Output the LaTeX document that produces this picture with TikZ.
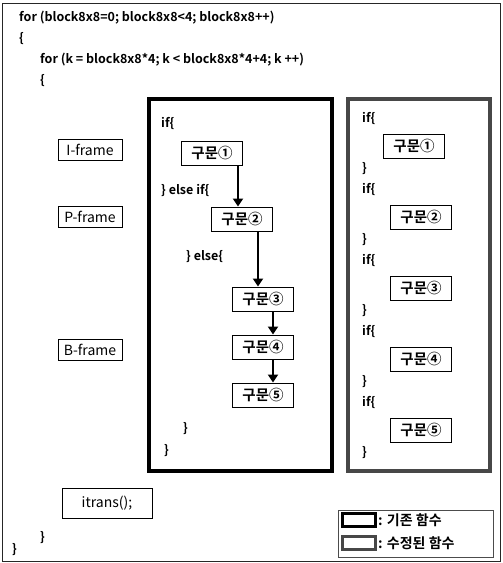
\documentclass[tikz,border=0pt]{standalone}
\usepackage{fontspec}
\setmainfont{Noto Sans CJK KR}[BoldFont={Noto Sans CJK KR Bold}]
\usetikzlibrary{arrows.meta,positioning,calc}

\begin{document}
\begin{tikzpicture}[
    x=1pt,y=-1pt,
    code/.style   = {anchor=base west,inner sep=0pt,font=\bfseries\fontsize{12.5}{14}\selectfont},
    gumun/.style  = {rectangle,draw=black,line width=1pt,fill=white,
                     minimum width=61pt,minimum height=24pt,inner sep=1pt,
                     font=\bfseries\fontsize{14.5}{16}\selectfont},
    frm/.style    = {rectangle,draw=black,line width=1pt,fill=white,
                     minimum width=64pt,minimum height=21pt,inner sep=1pt,
                     font=\fontsize{14}{16}\selectfont},
    oldbox/.style = {rectangle,draw=black,line width=4pt,inner sep=0pt},
    newbox/.style = {rectangle,draw=black!72,line width=4pt,inner sep=0pt},
    fl/.style     = {-{Triangle[length=8pt,width=10pt]},line width=2.2pt},
  ]
  \useasboundingbox (0,0) rectangle (503,563);
  \node[draw=black!85,line width=1pt,inner sep=0pt,minimum width=498pt,
        minimum height=558pt] (page) at (251,282) {};

  % bucles
  \node[code] (for1) at (19,21) {for (block8x8=0; block8x8<4; block8x8++)};
  \node[code] (ob1)  at (19,42) {\{};
  \node[code] (for2) at (40,63) {for (k = block8x8*4; k < block8x8*4+4; k ++)};
  \node[code] (ob2)  at (40,84) {\{};

  % bloques grandes
  \node[oldbox,minimum width=183pt,minimum height=372pt] (orig) at (240.5,285) {};
  \node[newbox,minimum width=142pt,minimum height=372pt] (mod)  at (419,285) {};

  % tipos de frame
  \node[frm] (iframe) at (90,150) {I-frame};
  \node[frm] (pframe) at (90,217) {P-frame};
  \node[frm] (bframe) at (90,350) {B-frame};

  % funcion original
  \node[code] (if0)   at (161,127) {if\{};
  \node[gumun] (a1)   at (212,153) {구문①};
  \node[code] (elif)  at (161,194) {\} else if\{};
  \node[gumun] (a2)   at (242,219) {구문②};
  \node[code] (els)   at (186,260) {\} else\{};
  \node[gumun] (a3)   at (263,299) {구문③};
  \node[gumun] (a4)   at (263,347) {구문④};
  \node[gumun] (a5)   at (263,395) {구문⑤};
  \node[code] (cb1)   at (183,432) {\}};
  \node[code] (cb2)   at (164,454) {\}};

  \draw[fl] ([xshift=-5pt]a1.south east) -- ([xshift=-5pt]a1.south east |- a2.north);
  \draw[fl] ([xshift=-15pt]a2.south east) -- ([xshift=-15pt]a2.south east |- a3.north);
  \draw[fl] ([xshift=10pt]a3.south) -- ([xshift=10pt]a4.north);
  \draw[fl] ([xshift=10pt]a4.south) -- ([xshift=10pt]a5.north);

  % funcion modificada
  \node[code] (rif1) at (362,122) {if\{};
  \node[gumun] (b1)  at (414,146) {구문①};
  \node[code] (rcb1) at (362,172) {\}};
  \node[code] (rif2) at (362,193) {if\{};
  \node[gumun] (b2)  at (421,217) {구문②};
  \node[code] (rcb2) at (362,243) {\}};
  \node[code] (rif3) at (362,264) {if\{};
  \node[gumun] (b3)  at (421,288) {구문③};
  \node[code] (rcb3) at (362,314) {\}};
  \node[code] (rif4) at (362,335) {if\{};
  \node[gumun] (b4)  at (421,359) {구문④};
  \node[code] (rcb4) at (362,385) {\}};
  \node[code] (rif5) at (362,406) {if\{};
  \node[gumun] (b5)  at (421,430) {구문⑤};
  \node[code] (rcb5) at (362,456) {\}};

  % itrans
  \node[frm,minimum width=90pt,minimum height=30pt] (itr) at (107,503) {itrans();};
  \node[code] (cb3) at (40,541) {\}};
  \node[code] (cb4) at (12,553) {\}};

  % leyenda
  \node[draw=black!70,line width=0.8pt,minimum width=155pt,minimum height=47pt,
        inner sep=0pt] (leg) at (415.5,533.5) {};
  \node[oldbox,line width=3pt,minimum width=33pt,minimum height=13pt] (sw1) at (359,520) {};
  \node[newbox,line width=3pt,minimum width=33pt,minimum height=13pt] (sw2) at (359,543) {};
  \node[code,anchor=west,font=\bfseries\fontsize{14}{16}\selectfont] (lg1) at (378,520) {: 기존 함수};
  \node[code,anchor=west,font=\bfseries\fontsize{14}{16}\selectfont] (lg2) at (378,543) {: 수정된 함수};
\end{tikzpicture}
\end{document}
